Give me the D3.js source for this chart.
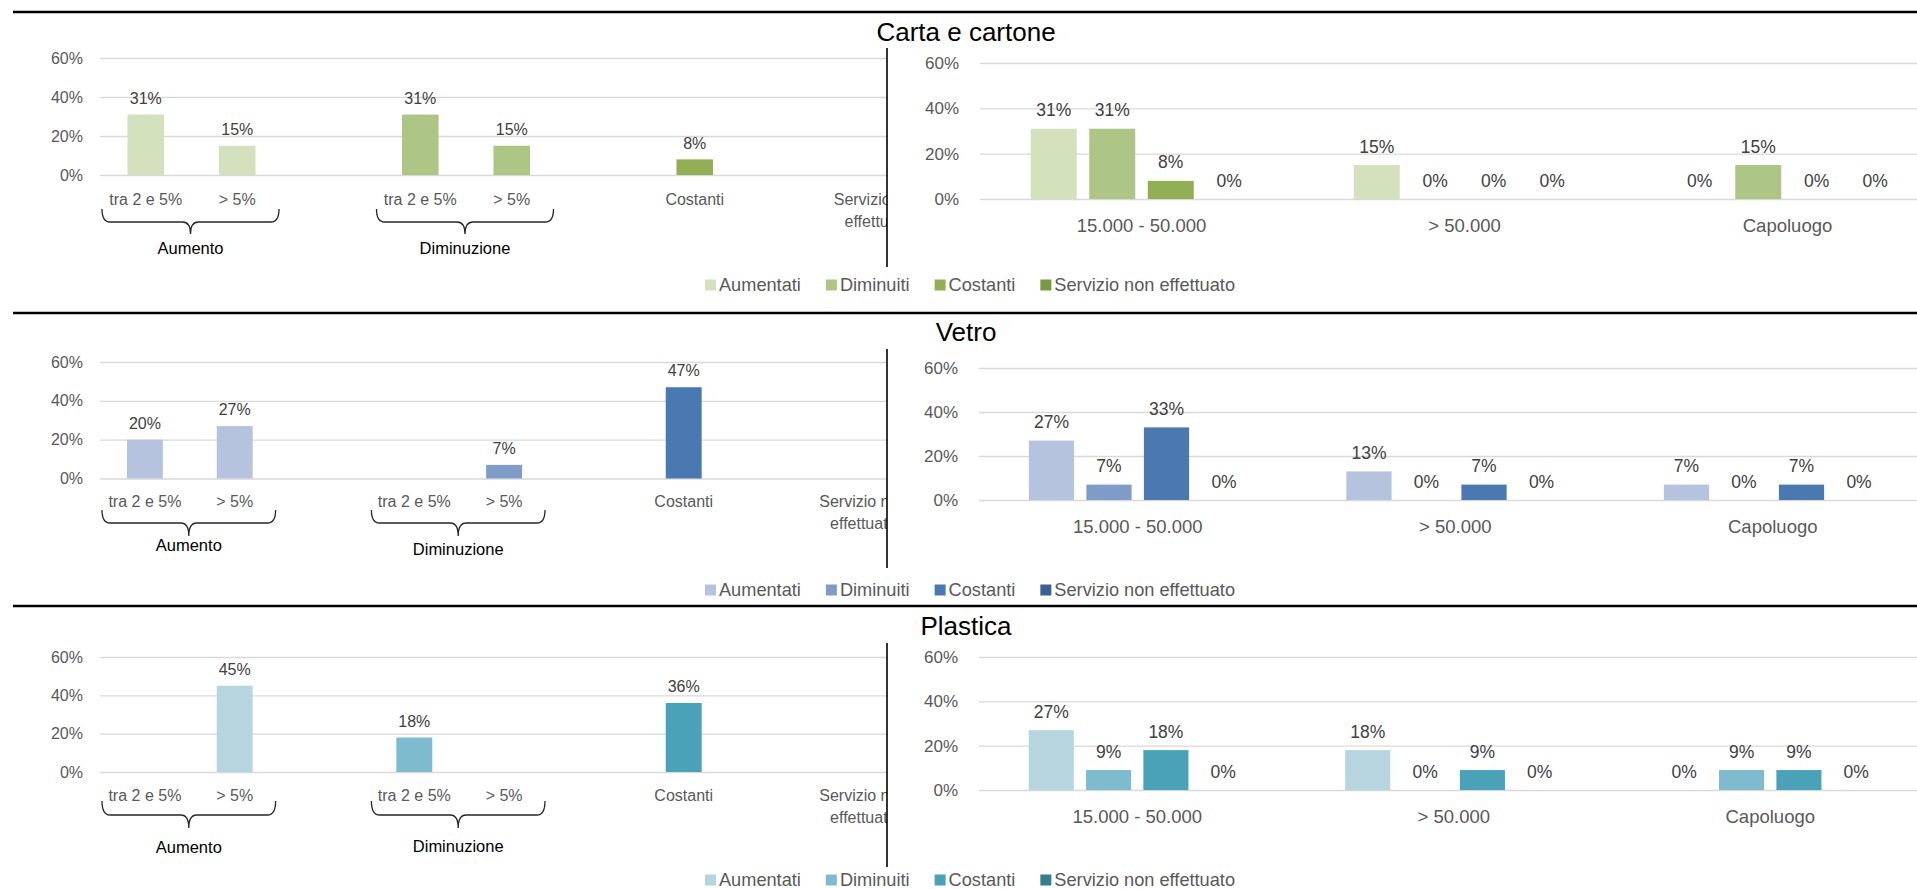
<!DOCTYPE html>
<meta charset="utf-8">
<script src="https://d3js.org/d3.v7.min.js"></script>
<style>
  body { margin: 0; background: #fff; }
  svg { display: block; font-family: "Liberation Sans", Arial, sans-serif; }
  .grid .tick line { stroke: #d9d9d9; stroke-width: 1.3; }
  .grid .tick text { fill: #595959; }
  .left .grid .tick text { font-size: 16px; }
  .right .grid .tick text { font-size: 17px; }
  .vlabel { fill: #404040; text-anchor: middle; }
  .cat { fill: #595959; text-anchor: middle; }
  .brace { fill: none; stroke: #262626; stroke-width: 1.3; }
  .braceLabel { fill: #000; font-size: 16.5px; text-anchor: middle; }
  .title { fill: #000; font-size: 26px; text-anchor: middle; }
  .legend text { fill: #595959; font-size: 18.2px; }
</style>
<body></body>
<script>

  // grafico di sinistra: categorie (gli slot vuoti fanno da spazio)
  let leftCategories = ["tra 2 e 5%", "> 5%", "", "tra 2 e 5%", "> 5%", "", "Costanti", "", "Servizio non effettuato"];
  let leftSeriesIndex = [0, 0, -1, 1, 1, -1, 2, -1, 3];
  let braceLabels = ["Aumento", "Diminuzione"];
  let braceSpans = [[0, 1], [3, 4]];

  // grafico di destra
  let rightCategories = ["15.000 - 50.000", "> 50.000", "Capoluogo"];
  let seriesNames = ["Aumentati", "Diminuiti", "Costanti", "Servizio non effettuato"];
  let yTicks = [0, 0.2, 0.4, 0.6];

  let materials = ["Carta e cartone", "Vetro", "Plastica"];

  let cartaLeft = [0.31, 0.15, null, 0.31, 0.15, null, 0.08, null, null];
  let vetroLeft = [0.20, 0.27, null, null, 0.07, null, 0.47, null, null];
  let plasticaLeft = [null, 0.45, null, 0.18, null, null, 0.36, null, null];

  // una riga per serie, un valore per categoria
  let cartaRight = [[0.31, 0.15, 0], [0.31, 0, 0.15], [0.08, 0, 0], [0, 0, 0]];
  let vetroRight = [[0.27, 0.13, 0.07], [0.07, 0, 0], [0.33, 0.07, 0.07], [0, 0, 0]];
  let plasticaRight = [[0.27, 0.18, 0], [0.09, 0, 0.09], [0.18, 0.09, 0.09], [0, 0, 0]];

  let cartaColors = ["#d4e1bd", "#adc686", "#92af55", "#789943"];
  let vetroColors = ["#b5c3de", "#7f9bc8", "#4a78b0", "#3b6093"];
  let plasticaColors = ["#b6d5df", "#7ebbcf", "#49a2b8", "#367f91"];

  let panels = [
    { name: materials[0], left: cartaLeft, right: cartaRight, colors: cartaColors },
    { name: materials[1], left: vetroLeft, right: vetroRight, colors: vetroColors },
    { name: materials[2], left: plasticaLeft, right: plasticaRight, colors: plasticaColors }
  ];

  // geometria di ogni pannello (pixel)
  let layout = [
    { top: 12, titleY: 32, lx: 100, slot: 91.5, ly0: 175, ly60: 58, lcatY: 199, brace: [209, 222, 234], braceLabY: [248, 248],
      div: [48, 267], rx: 980, band: 323, ry0: 199, ry60: 63, rcatY: 226, legendY: 285 },
    { top: 313, titleY: 332, lx: 100, slot: 89.8, ly0: 478.5, ly60: 362, lcatY: 501, brace: [510, 523, 536], braceLabY: [545, 549],
      div: [349, 568], rx: 979, band: 317.5, ry0: 500, ry60: 368, rcatY: 527, legendY: 590 },
    { top: 606, titleY: 626, lx: 100, slot: 89.8, ly0: 772, ly60: 657, lcatY: 795, brace: [801, 815, 828], braceLabY: [847, 846],
      div: [643, 867], rx: 979, band: 316.5, ry0: 790, ry60: 657, rcatY: 817, legendY: 880 }
  ];

  let W = 1917, H = 889;
  let pct = d3.format(".0%");

  let svg = d3.select("body").append("svg")
    .attr("width", W)
    .attr("height", H);

  svg.append("defs").append("clipPath").attr("id", "leftClip")
    .append("rect").attr("x", 0).attr("y", 0).attr("width", 887).attr("height", H);

  function wrap(text, width) {
    text.each(function () {
      let t = d3.select(this), words = t.text().split(" "), line = [], lines = [];
      t.text(null);
      let probe = t.append("tspan");
      words.forEach(w => {
        line.push(w);
        probe.text(line.join(" "));
        if (probe.node().getComputedTextLength() > width && line.length > 1) {
          line.pop();
          lines.push(line.join(" "));
          line = [w];
        }
      });
      lines.push(line.join(" "));
      probe.remove();
      let x = t.attr("x");
      lines.forEach((l, i) => {
        t.append("tspan").attr("x", x).attr("dy", i == 0 ? "0.35em" : "22px").text(l);
      });
    });
  }

  panels.forEach((p, k) => {
    let L = layout[k];
    let g = svg.append("g");

    g.append("line")
      .attr("x1", 13).attr("x2", W)
      .attr("y1", L.top).attr("y2", L.top)
      .attr("stroke", "#000").attr("stroke-width", 2.5);

    g.append("text")
      .attr("class", "title")
      .attr("x", 966).attr("y", L.titleY).attr("dy", "0.35em")
      .text(p.name);

    // ---- sinistra ----
    let lg = g.append("g").attr("class", "left").attr("clip-path", "url(#leftClip)");

    let xL = d3.scaleBand()
      .domain(d3.range(leftCategories.length))
      .range([L.lx, L.lx + leftCategories.length * L.slot])
      .paddingInner(0.6)
      .paddingOuter(0.3);

    let yL = d3.scaleLinear().domain([0, 0.6]).range([L.ly0, L.ly60]);

    lg.append("g")
      .attr("class", "grid")
      .attr("transform", `translate(${L.lx},0)`)
      .call(d3.axisLeft(yL).tickValues(yTicks).tickFormat(pct).tickSize(-(W - L.lx)).tickPadding(17))
      .call(a => a.select(".domain").remove());

    let leftData = p.left.map((v, i) => ({ v: v, i: i })).filter(d => d.v !== null);

    lg.selectAll(".barL")
      .data(leftData).enter().append("rect")
      .attr("class", "barL")
      .attr("x", d => xL(d.i))
      .attr("width", xL.bandwidth())
      .attr("y", d => yL(d.v))
      .attr("height", d => yL(0) - yL(d.v))
      .attr("fill", d => p.colors[leftSeriesIndex[d.i]]);

    lg.selectAll(".vlabelL")
      .data(leftData).enter().append("text")
      .attr("class", "vlabel")
      .attr("font-size", 16)
      .attr("x", d => xL(d.i) + xL.bandwidth() / 2)
      .attr("y", d => yL(d.v) - 16.5)
      .attr("dy", "0.35em")
      .text(d => pct(d.v));

    lg.selectAll(".catL")
      .data(leftCategories.map((c, i) => ({ c: c, i: i })).filter(d => d.c !== "")).enter().append("text")
      .attr("class", "cat")
      .attr("font-size", 16)
      .attr("x", d => xL(d.i) + xL.bandwidth() / 2)
      .attr("y", L.lcatY)
      .text(d => d.c)
      .call(wrap, xL.step());

    let slotStart = i => xL(i) - (xL.step() - xL.bandwidth()) / 2;

    braceSpans.forEach((s, j) => {
      let x1 = slotStart(s[0]) + 2, x2 = slotStart(s[1] + 1) - 4, xm = (x1 + x2) / 2;
      let yt = L.brace[0], yb = L.brace[1], ytip = L.brace[2], r = 8;
      lg.append("path")
        .attr("class", "brace")
        .attr("d", `M${x1},${yt} Q${x1},${yb} ${x1 + r},${yb} L${xm - r},${yb} Q${xm},${yb} ${xm},${ytip}
                   M${xm},${ytip} Q${xm},${yb} ${xm + r},${yb} L${x2 - r},${yb} Q${x2},${yb} ${x2},${yt}`);
      lg.append("text")
        .attr("class", "braceLabel")
        .attr("x", xm).attr("y", L.braceLabY[j]).attr("dy", "0.35em")
        .text(braceLabels[j]);
    });

    g.append("line")
      .attr("x1", 887).attr("x2", 887)
      .attr("y1", L.div[0]).attr("y2", L.div[1])
      .attr("stroke", "#000").attr("stroke-width", 1.6);

    // ---- destra ----
    let rg = g.append("g").attr("class", "right");

    let xR = d3.scaleBand()
      .domain(rightCategories)
      .range([L.rx, L.rx + rightCategories.length * L.band]);

    let xS = d3.scaleBand()
      .domain(seriesNames)
      .range([0, xR.bandwidth()])
      .paddingInner(0.214)
      .paddingOuter(0.867);

    let yR = d3.scaleLinear().domain([0, 0.6]).range([L.ry0, L.ry60]);

    rg.append("g")
      .attr("class", "grid")
      .attr("transform", `translate(${L.rx},0)`)
      .call(d3.axisLeft(yR).tickValues(yTicks).tickFormat(pct).tickSize(-(W - L.rx)).tickPadding(21))
      .call(a => a.select(".domain").remove());

    let rightData = [];
    seriesNames.forEach((s, si) => {
      rightCategories.forEach((c, ci) => {
        rightData.push({ s: s, si: si, c: c, v: p.right[si][ci] });
      });
    });

    rg.selectAll(".barR")
      .data(rightData).enter().append("rect")
      .attr("class", "barR")
      .attr("x", d => xR(d.c) + xS(d.s))
      .attr("width", xS.bandwidth())
      .attr("y", d => yR(d.v))
      .attr("height", d => yR(0) - yR(d.v))
      .attr("fill", d => p.colors[d.si]);

    rg.selectAll(".vlabelR")
      .data(rightData).enter().append("text")
      .attr("class", "vlabel")
      .attr("font-size", 17.5)
      .attr("x", d => xR(d.c) + xS(d.s) + xS.bandwidth() / 2)
      .attr("y", d => yR(d.v) - 18.5)
      .attr("dy", "0.35em")
      .text(d => pct(d.v));

    rg.selectAll(".catR")
      .data(rightCategories).enter().append("text")
      .attr("class", "cat")
      .attr("font-size", 18.5)
      .attr("x", d => xR(d) + xR.bandwidth() / 2)
      .attr("y", L.rcatY)
      .attr("dy", "0.35em")
      .text(d => d);

    // ---- legenda ----
    let legend = g.append("g").attr("class", "legend");
    let pos = 0;
    seriesNames.forEach((s, i) => {
      let item = legend.append("g").attr("transform", `translate(${pos},0)`);
      item.append("rect")
        .attr("x", 0).attr("y", -5.5)
        .attr("width", 11).attr("height", 11)
        .attr("fill", p.colors[i]);
      let t = item.append("text")
        .attr("x", 14).attr("dy", "0.35em")
        .text(s);
      pos += 14 + t.node().getComputedTextLength() + 25;
    });
    pos -= 25;
    legend.attr("transform", `translate(${970 - pos / 2},${L.legendY})`);
  });

</script>
